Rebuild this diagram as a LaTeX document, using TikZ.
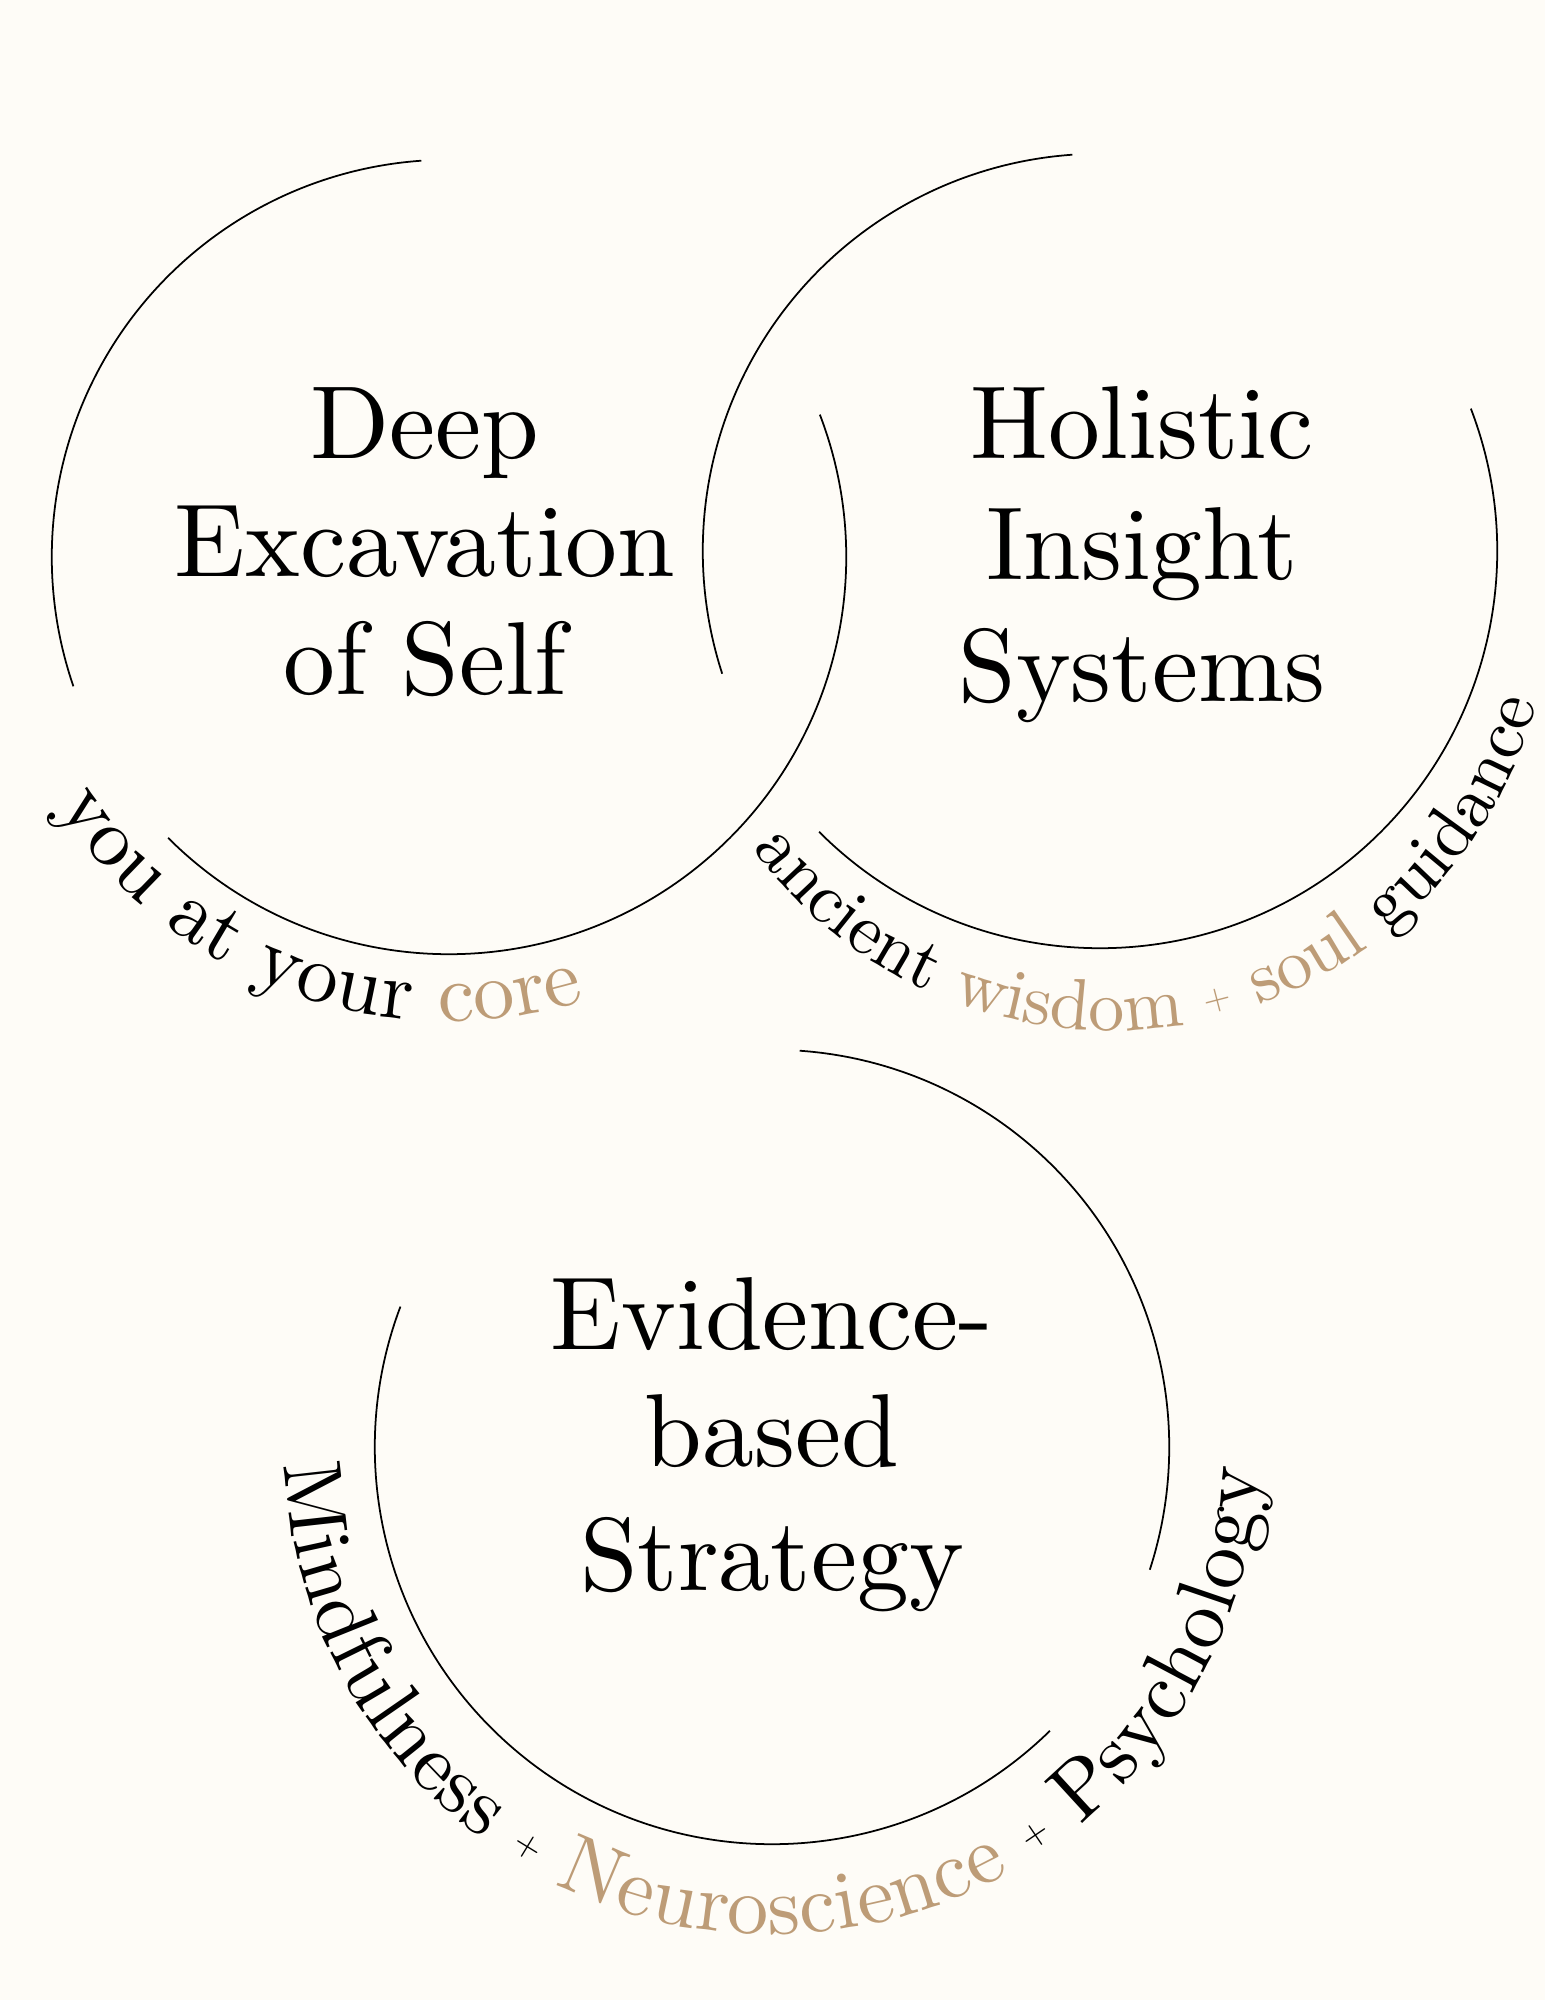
\documentclass[tikz,border=0pt]{standalone}
\usepackage{fontspec}
\setmainfont{lmroman10-regular.otf}
\usetikzlibrary{decorations.text}
\definecolor{paper}{HTML}{FEFCF7}
\definecolor{sand}{HTML}{BD9C77}

\begin{document}
\begin{tikzpicture}[x=0.01cm, y=0.01cm,
    ring/.style={line width=0.5pt},
    title/.style={font=\fontsize{29.5}{29.5}\selectfont, anchor=base, inner sep=0pt}]
  \fill[paper] (0,0) rectangle (1545,2000);
  \useasboundingbox (0,0) rectangle (1545,2000);
  \coordinate (deep) at (449,1443);
  \coordinate (holo) at (1100,1449);
  \coordinate (holotext) at (1110,1411);
  \coordinate (evid) at (772,553);
  % open rings
  \draw[ring] (deep) ++(94:3.97cm) arc[start angle=94, end angle=199, radius=3.97cm];
  \draw[ring] (deep) ++(225:3.97cm) arc[start angle=225, end angle=381, radius=3.97cm];
  \draw[ring] (holo) ++(94:3.97cm) arc[start angle=94, end angle=198, radius=3.97cm];
  \draw[ring] (holo) ++(225:3.97cm) arc[start angle=225, end angle=381, radius=3.97cm];
  \draw[ring] (evid) ++(86:3.97cm) arc[start angle=86, end angle=-18, radius=3.97cm];
  \draw[ring] (evid) ++(-45.6:3.97cm) arc[start angle=-45.6, end angle=-200.7, radius=3.97cm];
  % titles
  \foreach \n/\x/\y/\t in {deepA/425/1541/Deep, deepB/425/1423/Excavation, deepC/425/1305/of Self,
      holoA/1142/1541/Holistic, holoB/1142/1420/Insight, holoC/1142/1298/Systems,
      evidA/772/650/Evidence-, evidB/772/533/based, evidC/772/409/Strategy}
    \node[title] (\n) at (\x,\y) {\t};
  % curved captions
  \path[decorate, decoration={text along path, text align={fit to path},
      text={|\fontsize{23.5}{23.5}\selectfont|you at your |\fontsize{23.5}{23.5}\selectfont\color{sand}|core}}]
    (deep) ++(212.5:4.64cm) arc[start angle=212.5, end angle=287, radius=4.64cm];
  \path[decorate, decoration={text along path, text align={fit to path},
      text={|\fontsize{20.5}{20.5}\selectfont|ancient |\fontsize{20.5}{20.5}\selectfont\color{sand}|wisdom {\raisebox{2pt}{\fontsize{10}{10}\selectfont+}} soul |\fontsize{20.5}{20.5}\selectfont|guidance}}]
    (holotext) ++(216:4.41cm) arc[start angle=216, end angle=345, radius=4.41cm];
  \path[decorate, decoration={text along path, text align={fit to path},
      text={|\fontsize{23.5}{23.5}\selectfont|Mindfulness {\raisebox{2.6pt}{\fontsize{10}{10}\selectfont+}} |\fontsize{23.5}{23.5}\selectfont\color{sand}|Neuroscience |\fontsize{23.5}{23.5}\selectfont|{\raisebox{2.6pt}{\fontsize{10}{10}\selectfont+}} Psychology}}]
    (evid) ++(182:4.87cm) arc[start angle=182, end angle=357.5, radius=4.87cm];
\end{tikzpicture}
\end{document}
